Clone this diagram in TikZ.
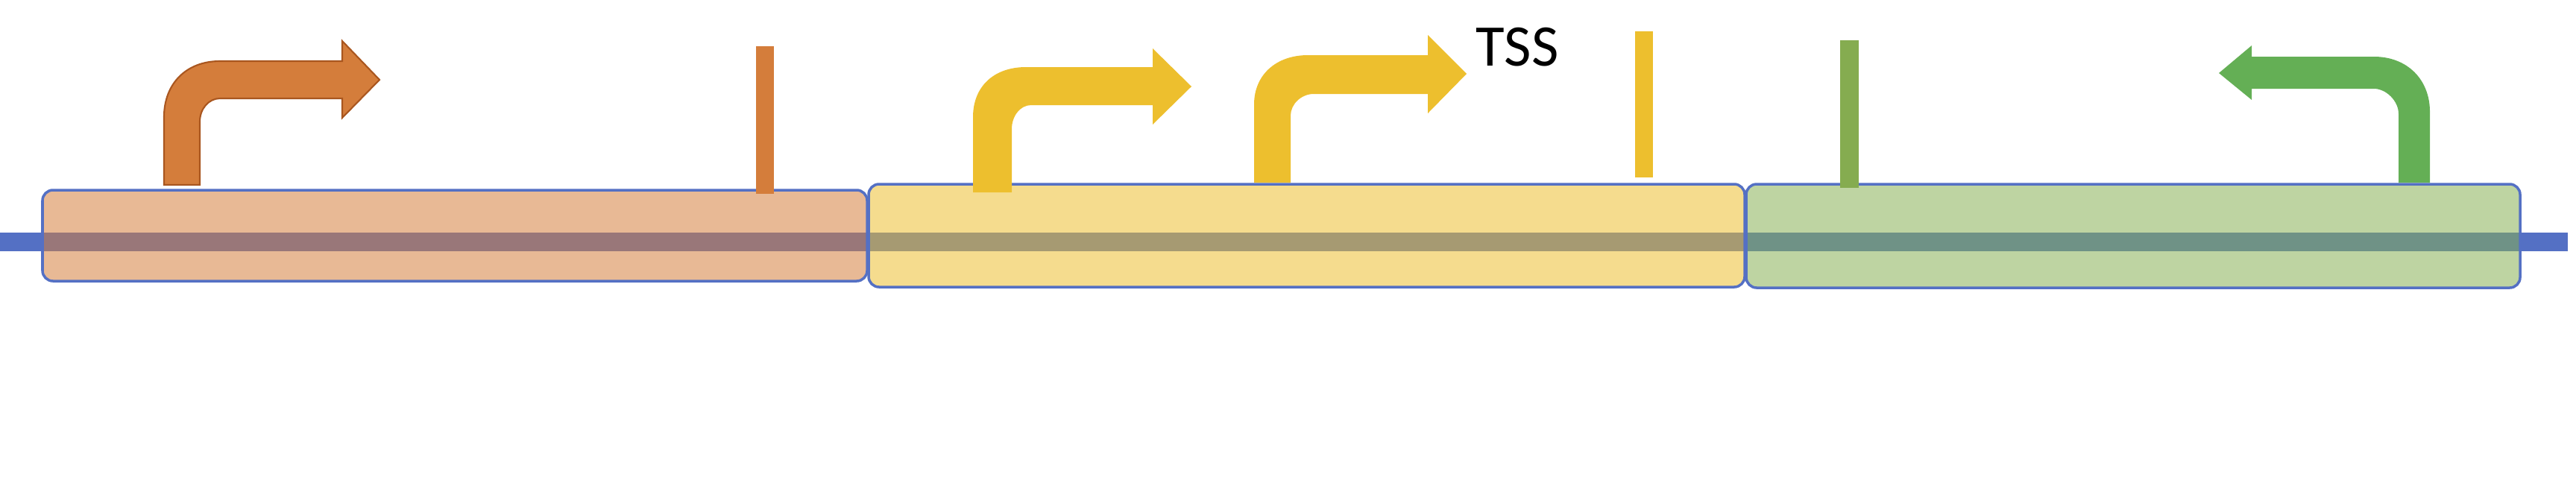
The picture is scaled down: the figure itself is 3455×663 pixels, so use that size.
\documentclass[tikz,border=0pt]{standalone}
\usepackage{fontspec}
\setmainfont{Carlito}
\definecolor{dnablue}{HTML}{5470C4}
\definecolor{orangefill}{HTML}{D47D3B}
\definecolor{orangeedge}{HTML}{A9561F}
\definecolor{goldfill}{HTML}{EDBF2E}
\definecolor{greenbox}{HTML}{87AF53}
\definecolor{greenarrow}{HTML}{64AF55}
\definecolor{greenbar}{HTML}{85AC50}

\begin{document}
\begin{tikzpicture}[x=0.01cm, y=-0.01cm,
  dnaline/.style={draw=dnablue, line width=0.25cm},
  regionbox/.style={draw=dnablue, line width=1pt, rounded corners=0.14cm, fill opacity=0.54},
  promoter/.style={line join=miter},
  sitebar/.style={draw=none}]
  \useasboundingbox (0,0) rectangle (3455,663);
  \draw[dnaline] (0,324.5) -- (3444,324.5);
  \draw[regionbox, fill=orangefill] (57,255) rectangle (1163,377);
  \draw[regionbox, fill=goldfill] (1165,247) rectangle (2340,385);
  \draw[regionbox, fill=greenbox] (2342,247) rectangle (3380,386);
  \fill[sitebar, orangefill] (1014,62) rectangle (1038,260);
  \fill[sitebar, goldfill] (2193,42) rectangle (2217,238);
  \fill[sitebar, greenbar] (2468,54) rectangle (2493,252);
  \filldraw[promoter, fill=orangefill, draw=orangeedge, line width=0.6pt]
    (220,248) -- (220,157) .. controls (220,112) and (250,82) .. (295,82)
    -- (459,82) -- (459,55) -- (509,107) -- (459,158) -- (459,132) -- (295,132)
    .. controls (280,132) and (268,146) .. (268,163) -- (268,248) -- cycle;
  \fill[promoter, goldfill]
    (1305,258) -- (1305,157) .. controls (1305,116) and (1333,90) .. (1376,90)
    -- (1546,90) -- (1546,65) -- (1598,116) -- (1546,167) -- (1546,141) -- (1383,141)
    .. controls (1368,141) and (1357,156) .. (1357,173) -- (1357,258) -- cycle;
  \fill[promoter, goldfill]
    (1682,245) -- (1682,140) .. controls (1682,100) and (1712,74) .. (1754,74)
    -- (1915,74) -- (1915,47) -- (1967,99) -- (1915,152) -- (1915,126) -- (1762,126)
    .. controls (1745,126) and (1731,140) .. (1731,155) -- (1731,245) -- cycle;
  \fill[promoter, greenarrow]
    (3259,245) -- (3259,150) .. controls (3259,106) and (3228,76) .. (3184,76)
    -- (3020,76) -- (3020,61) -- (2976,98) -- (3020,134) -- (3020,119) -- (3184,119)
    .. controls (3200,119) and (3217,135) .. (3217,153) -- (3217,245) -- cycle;
  \node[anchor=base west, inner sep=0pt, font=\fontsize{22.5}{27}\selectfont] (tss) at (1979,88) {TSS};
\end{tikzpicture}
\end{document}
